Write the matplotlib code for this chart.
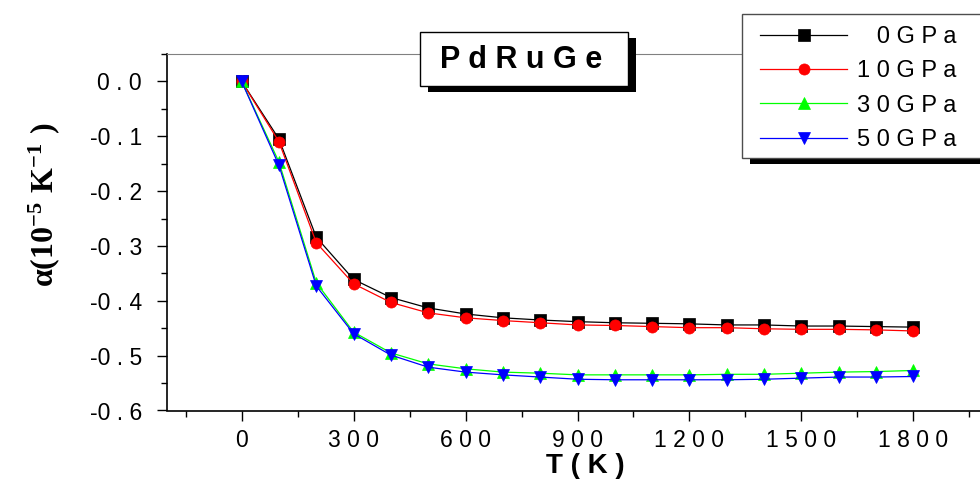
import numpy as np
import matplotlib.pyplot as plt
from matplotlib.patches import Rectangle
from matplotlib.ticker import MultipleLocator

plt.rcParams['font.family'] = ['Liberation Sans', 'DejaVu Sans']
plt.rcParams['mathtext.fontset'] = 'custom'
plt.rcParams['mathtext.rm'] = 'Liberation Serif:bold'
plt.rcParams['mathtext.it'] = 'Liberation Serif:bold'
plt.rcParams['mathtext.bf'] = 'Liberation Serif:bold'

# temperature (K)
T = [0, 100, 200, 300, 400, 500, 600, 700, 800, 900,
     1000, 1100, 1200, 1300, 1400, 1500, 1600, 1700, 1800]

# thermal expansion coefficient, 10^-5 K^-1
a_0 = [0.0, -0.105, -0.284, -0.361, -0.394, -0.413, -0.424, -0.431, -0.435, -0.438,
       -0.440, -0.441, -0.442, -0.444, -0.444, -0.446, -0.446, -0.447, -0.448]
a_10 = [0.0, -0.110, -0.294, -0.369, -0.403, -0.422, -0.431, -0.436, -0.440, -0.444,
        -0.445, -0.447, -0.449, -0.449, -0.451, -0.452, -0.452, -0.453, -0.455]
a_30 = [0.0, -0.147, -0.367, -0.457, -0.495, -0.515, -0.524, -0.530, -0.532, -0.535,
        -0.535, -0.535, -0.535, -0.534, -0.534, -0.532, -0.530, -0.529, -0.527]
a_50 = [0.0, -0.153, -0.373, -0.460, -0.499, -0.521, -0.530, -0.535, -0.539, -0.543,
        -0.544, -0.544, -0.544, -0.544, -0.543, -0.541, -0.539, -0.539, -0.538]

labels = ['   0 G P a', '1 0 G P a', '3 0 G P a', '5 0 G P a']
colors = ['black', 'red', '#00ff00', 'blue']
markers = ['s', 'o', '^', 'v']

xticks = [0, 300, 600, 900, 1200, 1500, 1800]
xticklabels = ['0', '3 0 0', '6 0 0', '9 0 0', '1 2 0 0', '1 5 0 0', '1 8 0 0']
yticks = [0.0, -0.1, -0.2, -0.3, -0.4, -0.5, -0.6]
yticklabels = ['0 . 0', '-0 . 1', '-0 . 2', '-0 . 3', '-0 . 4', '-0 . 5', '-0 . 6']

W, H = 980, 490


def px(x, y):
    # pixel (from top-left) -> figure fraction
    return x / W, 1 - y / H


fig = plt.figure(figsize=(W / 100, H / 100), dpi=100)
ax = fig.add_axes([167 / W, 79.5 / H, (988 - 167) / W, (410.5 - 54) / H])

for y, c, m, lab in zip([a_0, a_10, a_30, a_50], colors, markers, labels):
    ax.plot(T, y, color=c, lw=0.9, marker=m, ms=9 if m in '^v' else 8,
            mec=c, mew=0.5, label=lab)

ax.set_xlim(-200, 2000)
ax.set_ylim(-0.6, 0.05)
ax.set_xticks(xticks)
ax.set_xticklabels(xticklabels)
ax.set_yticks(yticks)
ax.set_yticklabels(yticklabels)
ax.xaxis.set_minor_locator(MultipleLocator(150))
ax.yaxis.set_minor_locator(MultipleLocator(0.05))
ax.tick_params(axis='both', which='major', direction='out', length=7, width=1,
               labelsize=16.5)
ax.tick_params(axis='both', which='minor', direction='out', length=4, width=1)
ax.tick_params(axis='y', which='major', pad=11)
ax.tick_params(axis='x', which='major', pad=6)
ax.spines['top'].set_color('0.5')
ax.spines['right'].set_visible(False)
for s in ['left', 'bottom']:
    ax.spines[s].set_linewidth(1.2)

fig.text(*px(585, 466), 'T ( K )', fontsize=20, fontweight='bold',
         ha='center', va='center')
fig.text(*px(44, 205), r'$\mathrm{\alpha(10^{-5}\ K^{-1}\ )}$', fontsize=23,
         rotation=90, ha='center', va='center')

# title box with shadow
x0, y0 = px(428, 92)
fig.add_artist(Rectangle((x0, y0), 208 / W, 54 / H, transform=fig.transFigure,
                         facecolor='black', edgecolor='none', zorder=5))
x0, y0 = px(420, 86)
fig.add_artist(Rectangle((x0, y0), 208 / W, 54 / H, transform=fig.transFigure,
                         facecolor='white', edgecolor='black', lw=1, zorder=6))
fig.text(*px(521, 60), 'P d R u G e', fontsize=22, fontweight='bold',
         ha='center', va='center', zorder=7)

# legend box with shadow
x0, y0 = px(750, 164)
fig.add_artist(Rectangle((x0, y0), 260 / W, 144 / H, transform=fig.transFigure,
                         facecolor='black', edgecolor='none', zorder=5))
x0, y0 = px(742, 158)
fig.add_artist(Rectangle((x0, y0), 260 / W, 144 / H, transform=fig.transFigure,
                         facecolor='white', edgecolor='0.3', lw=1, zorder=6))
leg = fig.legend(loc='upper left', bbox_to_anchor=px(760, 26), frameon=False,
                 fontsize=17, handlelength=3.7, handletextpad=0.4,
                 labelspacing=0.52, borderpad=0, borderaxespad=0, numpoints=1)
leg.set_zorder(7)

fig.savefig('out.png', dpi=100)
